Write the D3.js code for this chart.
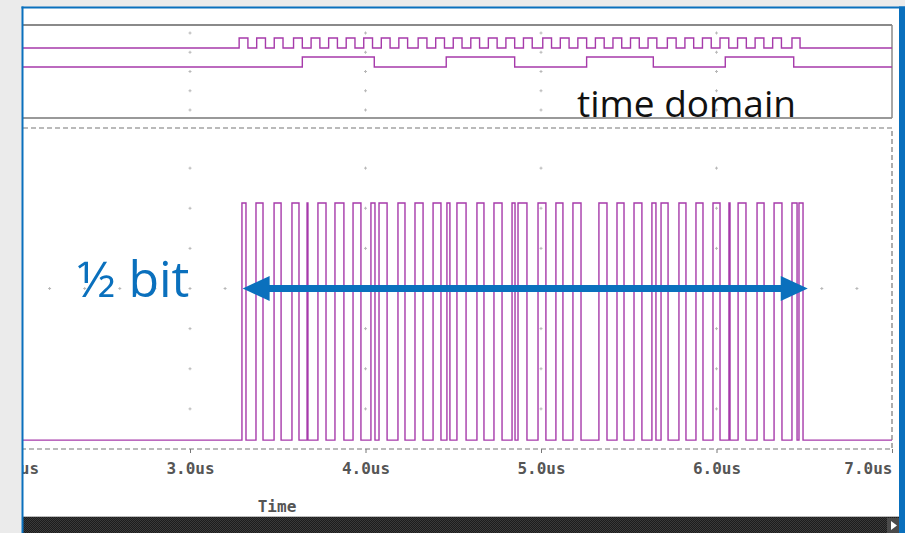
<!DOCTYPE html>
<html>
<head>
<meta charset="utf-8">
<script src="https://cdn.jsdelivr.net/npm/d3@7/dist/d3.min.js"></script>
<style>
  body { margin: 0; background: #ebebeb; overflow: hidden; }
</style>
</head>
<body>
<div id="container"></div>
<script>
// time axis (us)
const timeTicks = [2, 3, 4, 5, 6, 7];
const gridCols = [3, 4, 5, 6];
const midRowDots = [2.2, 2.4, 2.6, 2.8, 3.2, 6.6, 6.8];

// top trace 1: clock rising edges in us (high for 0.05us each)
const clockRise = [
  3.28, 3.38, 3.48, 3.59, 3.69, 3.79, 3.89, 3.99, 4.09, 4.19, 4.30,
  4.40, 4.50, 4.60, 4.70, 4.80, 4.90, 5.01, 5.11, 5.21, 5.31, 5.41,
  5.51, 5.61, 5.72, 5.82, 5.92, 6.02, 6.12, 6.22, 6.32, 6.43
];
const clockFall = [
  3.33, 3.43, 3.53, 3.64, 3.74, 3.84, 3.94, 4.04, 4.14, 4.24, 4.35,
  4.45, 4.55, 4.65, 4.75, 4.85, 4.95, 5.06, 5.16, 5.26, 5.36, 5.46,
  5.56, 5.66, 5.77, 5.87, 5.97, 6.07, 6.17, 6.27, 6.37, 6.476
];
// top trace 2: slow square wave
const dataPulses = [[3.64, 4.05], [4.46, 4.85], [5.26, 5.64], [6.05, 6.44]];

// bottom panel: modulated signal, high intervals
const signalPulses = [
  [3.296, 3.319], [3.376, 3.416], [3.479, 3.519], [3.581, 3.621], [3.667, 3.672],
  [3.729, 3.775], [3.826, 3.877], [3.929, 3.974], [4.031, 4.054], [4.077, 4.123],
  [4.185, 4.225], [4.282, 4.328], [4.385, 4.430], [4.464, 4.481], [4.521, 4.573],
  [4.635, 4.675], [4.732, 4.778], [4.835, 4.852], [4.869, 4.920], [4.983, 5.028],
  [5.085, 5.125], [5.182, 5.228], [5.330, 5.376], [5.433, 5.473], [5.530, 5.575],
  [5.632, 5.655], [5.684, 5.724], [5.786, 5.826], [5.883, 5.923], [5.980, 6.020],
  [6.071, 6.077], [6.123, 6.168], [6.231, 6.271], [6.328, 6.373], [6.430, 6.459],
  [6.470, 6.493]
];
const arrowSpan = [3.30, 6.52];

const width = 905, height = 533;
const purple = "#a63aaa";
const blue = "#0a70bd";

const svg = d3.select("#container")
  .append("svg")
  .attr("width", width)
  .attr("height", height)
  .style("display", "block");

// frame
svg.append("rect").attr("x", 23).attr("y", 8).attr("width", 876).attr("height", 510).attr("fill", "#fff");

const defs = svg.append("defs");
defs.append("clipPath").attr("id", "plot")
  .append("rect").attr("x", 23).attr("y", 8).attr("width", 872).attr("height", 510);
const pat = defs.append("pattern").attr("id", "dither")
  .attr("width", 2).attr("height", 2).attr("patternUnits", "userSpaceOnUse");
pat.append("rect").attr("width", 2).attr("height", 2).attr("fill", "#1c1c1c");
pat.append("rect").attr("width", 1).attr("height", 1).attr("fill", "#3a3a3a");
pat.append("rect").attr("x", 1).attr("y", 1).attr("width", 1).attr("height", 1).attr("fill", "#3a3a3a");

const x = d3.scaleLinear().domain([3, 7]).range([190, 892]);
const yBot = d3.scaleLinear().domain([0, 8]).range([449, 128]);
const yTop = d3.scaleLinear().domain([0, 4]).range([33, 110]);

const g = svg.append("g").attr("clip-path", "url(#plot)");

// grid dots
function cross(sel, cx, cy) {
  sel.append("path")
    .attr("d", `M${cx - 1.5},${cy}H${cx + 1.5}M${cx},${cy - 1.5}V${cy + 1.5}`)
    .attr("stroke", "#b8b8b8").attr("stroke-width", 1);
}
gridCols.forEach(t => {
  [0, 1, 2, 3, 4].forEach(r => cross(g, x(t), yTop(r)));
  [1, 2, 3, 4, 5, 6, 7].forEach(r => cross(g, x(t), yBot(r)));
});
midRowDots.forEach(t => cross(g, x(t), yBot(4)));

// panel borders
g.append("line").attr("x1", 23).attr("x2", 892).attr("y1", 25).attr("y2", 25)
  .attr("stroke", "#8a8a8a").attr("stroke-width", 2);
g.append("line").attr("x1", 23).attr("x2", 892).attr("y1", 118).attr("y2", 118)
  .attr("stroke", "#777").attr("stroke-width", 1.5);
g.append("line").attr("x1", 892).attr("x2", 892).attr("y1", 25).attr("y2", 118)
  .attr("stroke", "#8a8a8a").attr("stroke-width", 1.5);
g.append("path")
  .attr("d", `M23,128H892V449H23`)
  .attr("fill", "none").attr("stroke", "#777").attr("stroke-width", 1.2)
  .attr("stroke-dasharray", "5,3");

// step traces
function steps(pulses) {
  const pts = [[x.invert(20), 0]];
  pulses.forEach(([r, f]) => { pts.push([r, 0], [r, 1], [f, 1], [f, 0]); });
  pts.push([7, 0]);
  return pts;
}
function trace(pulses, lowY, highY, sw) {
  const ys = d3.scaleLinear().domain([0, 1]).range([lowY, highY]);
  g.append("path")
    .datum(steps(pulses))
    .attr("fill", "none")
    .attr("stroke", purple)
    .attr("stroke-width", sw)
    .attr("d", d3.line().x(d => x(d[0])).y(d => ys(d[1])));
}
trace(d3.zip(clockRise, clockFall), 48, 38, 1.4);
trace(dataPulses, 67, 57, 1.4);
trace(signalPulses, yBot(0.22), yBot(6.13), 1.4);

// x axis
const axis = g.append("g")
  .attr("transform", "translate(0,449)")
  .call(d3.axisBottom(x).tickValues(timeTicks).tickSize(4)
    .tickFormat(d => d3.format(".1f")(d) + "us"));
axis.select(".domain").remove();
axis.selectAll(".tick line").attr("stroke", "#777");
axis.selectAll(".tick text")
  .attr("y", 14)
  .attr("fill", "#555")
  .style("font-family", "'DejaVu Sans Mono', monospace")
  .style("font-weight", "bold")
  .style("font-size", "16px");
axis.selectAll(".tick text").filter(d => d === 7).attr("text-anchor", "end");

svg.append("text")
  .attr("x", 277).attr("y", 512)
  .attr("text-anchor", "middle")
  .attr("fill", "#555")
  .style("font-family", "'DejaVu Sans Mono', monospace")
  .style("font-weight", "bold")
  .style("font-size", "16px")
  .text("Time");

// annotations
svg.append("text")
  .attr("x", 577).attr("y", 117)
  .attr("fill", "#111")
  .style("font-family", "'Open Sans', sans-serif")
  .style("font-size", "37px")
  .text("time domain");

svg.append("text")
  .attr("x", 77).attr("y", 297)
  .attr("fill", blue)
  .style("font-family", "'Open Sans', sans-serif")
  .style("font-size", "50px")
  .text("½ bit");

const ay = yBot(4);
const ax0 = x(arrowSpan[0]), ax1 = x(arrowSpan[1]);
svg.append("line")
  .attr("x1", ax0 + 20).attr("x2", ax1 - 20).attr("y1", ay).attr("y2", ay)
  .attr("stroke", blue).attr("stroke-width", 7);
svg.append("path")
  .attr("d", `M${ax0},${ay}L${ax0 + 27},${ay - 12.5}L${ax0 + 27},${ay + 12.5}Z`)
  .attr("fill", blue);
svg.append("path")
  .attr("d", `M${ax1},${ay}L${ax1 - 27},${ay - 12.5}L${ax1 - 27},${ay + 12.5}Z`)
  .attr("fill", blue);

// bottom status bar
svg.append("rect").attr("x", 23).attr("y", 517).attr("width", 876).attr("height", 16)
  .attr("fill", "url(#dither)");
svg.append("line").attr("x1", 23).attr("x2", 899).attr("y1", 516.5).attr("y2", 516.5)
  .attr("stroke", "#bbb");
svg.append("rect").attr("x", 887).attr("y", 518).attr("width", 12).attr("height", 15).attr("fill", "#4a4a4a");
svg.append("path").attr("d", "M891,521L897,525.5L891,530Z").attr("fill", "#fff");

// blue slide frame
svg.append("rect").attr("x", 21.5).attr("y", 6.5).attr("width", 2).attr("height", 527).attr("fill", blue);
svg.append("rect").attr("x", 21.5).attr("y", 6.5).attr("width", 884).attr("height", 2).attr("fill", blue);
svg.append("rect").attr("x", 899).attr("y", 6.5).attr("width", 6).attr("height", 527).attr("fill", blue);
</script>
</body>
</html>
